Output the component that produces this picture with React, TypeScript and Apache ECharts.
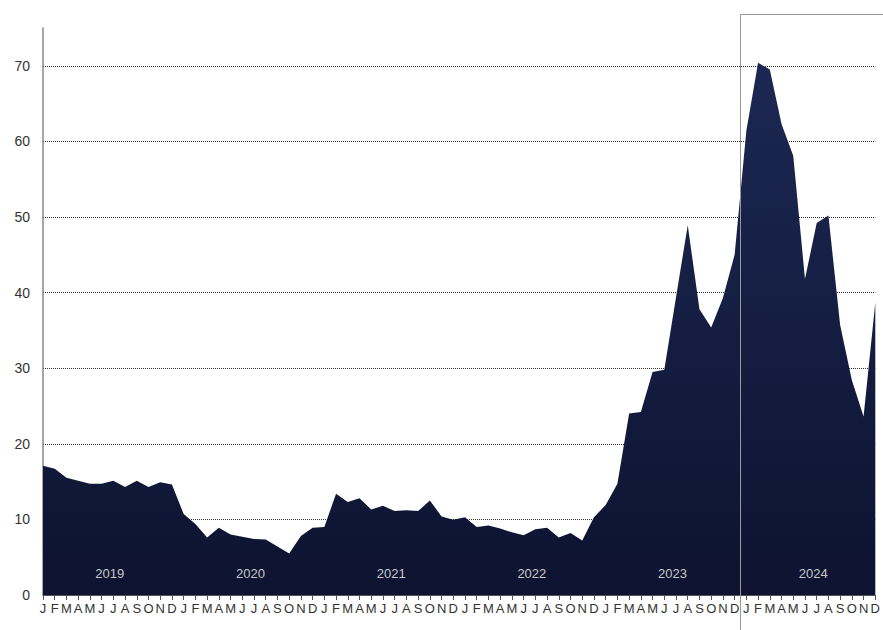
import React, { useEffect, useRef } from "react";
import * as echarts from "echarts";

const years = ["2019", "2020", "2021", "2022", "2023", "2024"];
const monthInitials = ["J", "F", "M", "A", "M", "J", "J", "A", "S", "O", "N", "D"];

const values2019 = [17.1, 16.7, 15.5, 15.1, 14.7, 14.7, 15.1, 14.3, 15.1, 14.3, 14.9, 14.6];
const values2020 = [10.7, 9.4, 7.6, 8.9, 8.0, 7.7, 7.4, 7.35, 6.4, 5.5, 7.8, 8.9];
const values2021 = [9.0, 13.4, 12.3, 12.8, 11.3, 11.8, 11.1, 11.2, 11.1, 12.5, 10.4, 9.95];
const values2022 = [10.3, 9.0, 9.2, 8.8, 8.3, 7.9, 8.7, 8.9, 7.6, 8.2, 7.2, 10.3];
const values2023 = [11.9, 14.7, 24.0, 24.2, 29.5, 29.8, 39.4, 48.9, 37.8, 35.4, 39.3, 45.0];
const values2024 = [61.4, 70.4, 69.5, 62.3, 58.1, 41.8, 49.2, 50.2, 35.7, 28.4, 23.6, 38.7];

const yTicks = [0, 10, 20, 30, 40, 50, 60, 70];
const yMax = 75;
const highlightYear = "2024";

export default function App() {
  const ref = useRef<HTMLDivElement>(null);
  useEffect(() => {
    if (!ref.current) return;
    const chart = echarts.init(ref.current, null, { renderer: "svg" });
    const categories: string[] = [];
    years.forEach((y) => monthInitials.forEach((m, i) => categories.push(y + "-" + i + "-" + m)));
    const data = [
      ...values2019,
      ...values2020,
      ...values2021,
      ...values2022,
      ...values2023,
      ...values2024,
    ];
    const font = "'Liberation Sans', Arial, sans-serif";
    chart.setOption({
      animation: false,
      grid: { left: 43, right: 5, top: 28, bottom: 35, containLabel: false },
      xAxis: {
        type: "category",
        data: categories,
        boundaryGap: false,
        axisLine: { show: true, lineStyle: { color: "#555", width: 1 } },
        axisTick: { show: true, alignWithLabel: true, interval: 0, length: 5, lineStyle: { color: "#555" } },
        axisLabel: {
          interval: 0,
          formatter: (v: string) => v.split("-")[2],
          color: "#333",
          fontSize: 13,
          fontFamily: font,
          margin: 7,
        },
        splitLine: { show: false },
      },
      yAxis: {
        type: "value",
        min: 0,
        max: yMax,
        interval: 10,
        axisLine: { show: true, lineStyle: { color: "#888", width: 1.5 } },
        axisTick: { show: false },
        axisLabel: {
          color: "#333",
          fontSize: 14,
          fontFamily: font,
          margin: 13,
          showMaxLabel: false,
          formatter: (v: number) => (yTicks.includes(v) ? String(v) : ""),
        },
        splitLine: {
          show: true,
          showMinLine: false,
          showMaxLine: false,
          lineStyle: { color: "#333", width: 1, type: [1, 1] },
        },
      },
      series: [
        {
          type: "line",
          data,
          symbol: "none",
          lineStyle: { width: 0 },
          areaStyle: {
            opacity: 1,
            color: new echarts.graphic.LinearGradient(0, 0, 0, 1, [
              { offset: 0, color: "#1c2853" },
              { offset: 1, color: "#0d1330" },
            ]),
          },
          z: 1,
        },
      ],
    });

    const xPix = (i: number) => chart.convertToPixel({ xAxisIndex: 0 }, i) as number;
    const yPix = (v: number) => chart.convertToPixel({ yAxisIndex: 0 }, v) as number;
    const idx = years.indexOf(highlightYear) * 12;
    const bx = Math.round((xPix(idx - 1) + xPix(idx)) / 2) + 0.5;
    const width = ref.current.clientWidth;
    const height = ref.current.clientHeight;
    const graphics: any[] = [
      {
        type: "polyline",
        shape: { points: [[bx, height], [bx, 14.5], [width, 14.5]] },
        style: { stroke: "#999", lineWidth: 1, fill: null },
        z: 10,
        silent: true,
      },
    ];
    years.forEach((y, k) => {
      const cx = xPix(k * 12 + 5) + 0.7 * (xPix(k * 12 + 6) - xPix(k * 12 + 5));
      graphics.push({
        type: "text",
        x: cx,
        y: yPix(2.8),
        style: {
          text: y,
          fill: "#c8c8c8",
          font: "13px " + font,
          textAlign: "center",
          textVerticalAlign: "middle",
        },
        z: 10,
        silent: true,
      });
    });
    chart.setOption({ graphic: graphics });
    return () => chart.dispose();
  }, []);
  return <div ref={ref} style={{ width: 883, height: 630, position: "absolute", left: 0, top: 0 }} />;
}
